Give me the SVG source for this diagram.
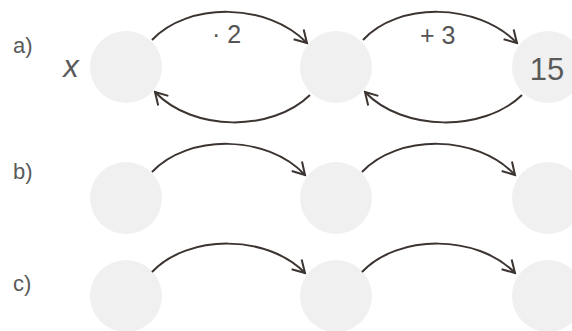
<svg xmlns="http://www.w3.org/2000/svg" width="572" height="331" viewBox="0 0 572 331">
<defs>
<style>
.node{fill:#f0f0f0;}
.lbl{font-family:"Liberation Sans",Arial,sans-serif;fill:#5a5a5a;}
.op{font-family:"Liberation Sans",Arial,sans-serif;fill:#555;font-size:25px;}
.conn path{fill:none;stroke:#3b3431;stroke-width:2;marker-end:url(#ah);}
</style>
<marker id="ah" markerUnits="userSpaceOnUse" markerWidth="16" markerHeight="16" viewBox="-14 -8 16 16" refX="0" refY="0" orient="auto">
<path d="M-12,-7 L0,0 L-12,7" fill="none" stroke="#3b3431" stroke-width="2"/>
</marker>
</defs>
<rect width="572" height="331" fill="#ffffff"/>
<text class="lbl" x="13" y="53" font-size="22">a)</text>
<text class="lbl" x="13" y="179" font-size="22">b)</text>
<text class="lbl" x="13" y="291" font-size="22">c)</text>
<g id="a1"><circle class="node" cx="126" cy="67" r="36"/><text class="lbl" x="71" y="77" font-size="31" font-style="italic" text-anchor="middle" fill="#444">x</text></g>
<g id="a2"><circle class="node" cx="336" cy="67" r="36"/></g>
<g id="a3"><circle class="node" cx="548" cy="67" r="36"/><text class="lbl" x="547" y="80" font-size="31" text-anchor="middle" fill="#333">15</text></g>
<g id="b1"><circle class="node" cx="126" cy="198" r="36"/></g>
<g id="b2"><circle class="node" cx="336" cy="198" r="36"/></g>
<g id="b3"><circle class="node" cx="548" cy="198" r="36"/></g>
<g id="c1"><circle class="node" cx="126" cy="296" r="36"/></g>
<g id="c2"><circle class="node" cx="336" cy="296" r="36"/></g>
<g id="c3"><circle class="node" cx="548" cy="296" r="36"/></g>
<g class="conn">
<path d="M152,40 C188,2 267,2 307,43"/>
<path d="M363,40 C398,2 477,2 517,43"/>
<path d="M522,95 C484,132 403,132 365,92"/>
<path d="M310,95 C272,132 193,132 155,92"/>
<path d="M152,172 C188,134 267,134 305,175"/>
<path d="M362,172 C398,134 477,134 515,175"/>
<path d="M152,272 C188,234 267,234 305,273"/>
<path d="M362,272 C398,234 477,234 515,273"/>
</g>
<text class="op" x="212" y="43">· 2</text>
<text class="op" x="420" y="44">+ 3</text>
</svg>
